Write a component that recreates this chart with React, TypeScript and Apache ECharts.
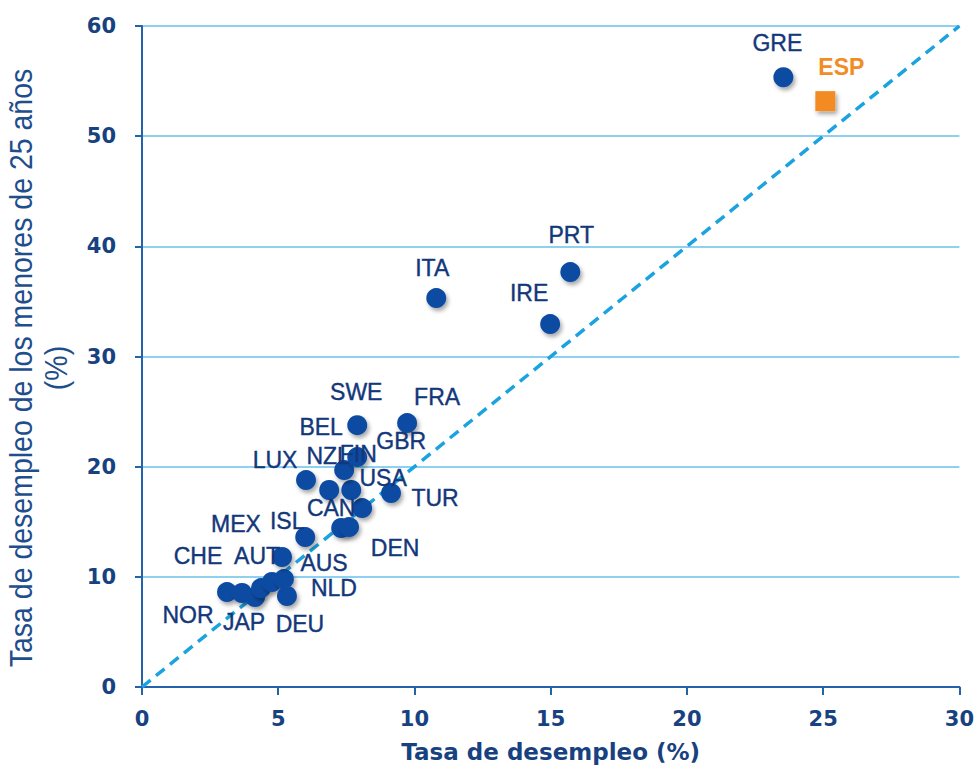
import React, { useEffect, useRef } from "react";
import * as echarts from "echarts";

// Data
const countries = ["NOR", "CHE", "JAP", "AUT", "MEX", "NLD", "DEU", "AUS", "ISL", "CAN", "DEN", "USA", "TUR", "LUX", "NZL", "FIN", "BEL", "GBR", "SWE", "FRA", "ITA", "IRE", "PRT", "GRE"];
const unemployment = [3.12, 3.67, 4.15, 4.37, 4.77, 5.21, 5.32, 5.14, 5.99, 7.31, 7.6, 8.08, 9.14, 6.02, 6.87, 7.68, 7.42, 7.9, 7.9, 9.73, 10.8, 14.98, 15.72, 23.54];
const youthUnemployment = [8.62, 8.53, 8.17, 8.98, 9.53, 9.8, 8.26, 11.8, 13.61, 14.43, 14.52, 16.24, 17.6, 18.78, 17.88, 17.88, 19.69, 20.87, 23.77, 23.96, 35.3, 32.94, 37.66, 55.35];
const spainName = "ESP";
const spainUnemployment = 25.08;
const spainYouth = 53.18;
const diagonalX = [0, 30];
const diagonalY = [0, 60];
const xTicks = [0, 5, 10, 15, 20, 25, 30];
const yTicks = [0, 10, 20, 30, 40, 50, 60];
const xTitle = "Tasa de desempleo (%)";
const yTitleLine1 = "Tasa de desempleo de los menores de 25 años";
const yTitleLine2 = "(%)";

// Layout: label offsets (pixels) relative to each marker centre
const labelOffsets: Record<string, [number, number]> = {
  NOR: [-39, 23], CHE: [-44, -37], JAP: [-11, 25], AUT: [-4, -32], MEX: [-36, -58],
  NLD: [50, 9], DEU: [13, 28], AUS: [42, 6], ISL: [-18, -16], CAN: [-10, -20],
  DEN: [46, 21], USA: [21, -30], TUR: [44, 5], LUX: [-31, -20], NZL: [-1, -34],
  FIN: [7, -36], BEL: [-23, -43], GBR: [44, -16], SWE: [-1, -33], FRA: [30, -26],
  ITA: [-4, -30], IRE: [-21, -31], PRT: [1, -37], GRE: [-6, -34], ESP: [16, -34],
};

const NAVY = "#12377A";
const TICK = "#17427F";
const DOT = "#0B4CA3";
const ORANGE = "#F28C24";
const AXIS = "#2463AA";
const GRID = "#8DD0F0";
const FONT = "Liberation Sans, Arial, sans-serif";
const WIDE = "DejaVu Sans, Verdana, sans-serif";

export default function App() {
  const ref = useRef<HTMLDivElement>(null);
  useEffect(() => {
    if (!ref.current) return;
    const chart = echarts.init(ref.current, undefined, { renderer: "svg" });
    const blueData = countries.map((c, i) => ({
      name: c,
      value: [unemployment[i], youthUnemployment[i]],
      label: { offset: labelOffsets[c] },
    }));
    const shadow = {
      opacity: 1,
      shadowBlur: 4,
      shadowColor: "rgba(0,0,0,0.35)",
      shadowOffsetX: 2,
      shadowOffsetY: 3,
    };
    chart.setOption({
      animation: false,
      backgroundColor: "#ffffff",
      grid: { left: 142, right: 17, top: 26, bottom: 95, containLabel: false },
      graphic: [
        {
          type: "text",
          x: 21,
          y: 368,
          rotation: Math.PI / 2,
          scaleY: 1.1,
          style: {
            text: yTitleLine1,
            fontSize: 28.5,
            fontFamily: FONT,
            fill: "#1F4E8C",
            align: "center",
            verticalAlign: "middle",
          },
        },
        {
          type: "text",
          x: 56,
          y: 368,
          rotation: Math.PI / 2,
          scaleY: 1.1,
          style: {
            text: yTitleLine2,
            fontSize: 28.5,
            fontFamily: FONT,
            fill: "#1F4E8C",
            align: "center",
            verticalAlign: "middle",
          },
        },
      ],
      xAxis: {
        type: "value",
        min: xTicks[0],
        max: xTicks[xTicks.length - 1],
        interval: 5,
        name: xTitle,
        nameLocation: "middle",
        nameGap: 53,
        nameTextStyle: { color: TICK, fontSize: 23, fontWeight: "bold", fontFamily: WIDE, verticalAlign: "top" },
        axisLine: { show: true, lineStyle: { color: AXIS, width: 2 } },
        axisTick: { show: true, inside: false, length: 8, lineStyle: { color: AXIS, width: 2 } },
        axisLabel: { color: TICK, fontSize: 21, fontWeight: "bold", fontFamily: WIDE, margin: 21 },
        splitLine: { show: false },
      },
      yAxis: {
        type: "value",
        min: yTicks[0],
        max: yTicks[yTicks.length - 1],
        interval: 10,
        axisLine: { show: true, lineStyle: { color: AXIS, width: 2 } },
        axisTick: { show: true, inside: false, length: 7, lineStyle: { color: AXIS, width: 2 } },
        axisLabel: { color: TICK, fontSize: 21, fontWeight: "bold", fontFamily: WIDE, margin: 26 },
        splitLine: { show: true, lineStyle: { color: GRID, width: 2 } },
      },
      series: [
        {
          type: "line",
          data: diagonalX.map((x, i) => [x, diagonalY[i]]),
          symbol: "none",
          lineStyle: { color: "#1BA3E0", width: 3.5, type: [11, 7] },
          z: 1,
          silent: true,
        },
        {
          type: "scatter",
          data: blueData,
          symbol: "circle",
          symbolSize: 20,
          itemStyle: { color: DOT, ...shadow },
          label: {
            show: true,
            position: "inside",
            formatter: "{b}",
            color: NAVY,
            opacity: 1,
            fontSize: 23,
            fontFamily: FONT,
            align: "center",
            verticalAlign: "middle",
            textBorderColor: NAVY,
            textBorderWidth: 0.4,
          },
          z: 3,
        },
        {
          type: "scatter",
          data: [{ name: spainName, value: [spainUnemployment, spainYouth], label: { offset: labelOffsets[spainName] } }],
          symbol: "rect",
          symbolSize: 20,
          itemStyle: { color: ORANGE, ...shadow },
          label: {
            show: true,
            position: "inside",
            formatter: "{b}",
            color: ORANGE,
            opacity: 1,
            fontSize: 23,
            fontWeight: "bold",
            fontFamily: FONT,
            align: "center",
            verticalAlign: "middle",
          },
          z: 3,
        },
      ],
    });
    return () => chart.dispose();
  }, []);
  return (
    <div
      ref={ref}
      style={{ position: "absolute", left: 0, top: 0, width: 977, height: 782, background: "#fff" }}
    />
  );
}
